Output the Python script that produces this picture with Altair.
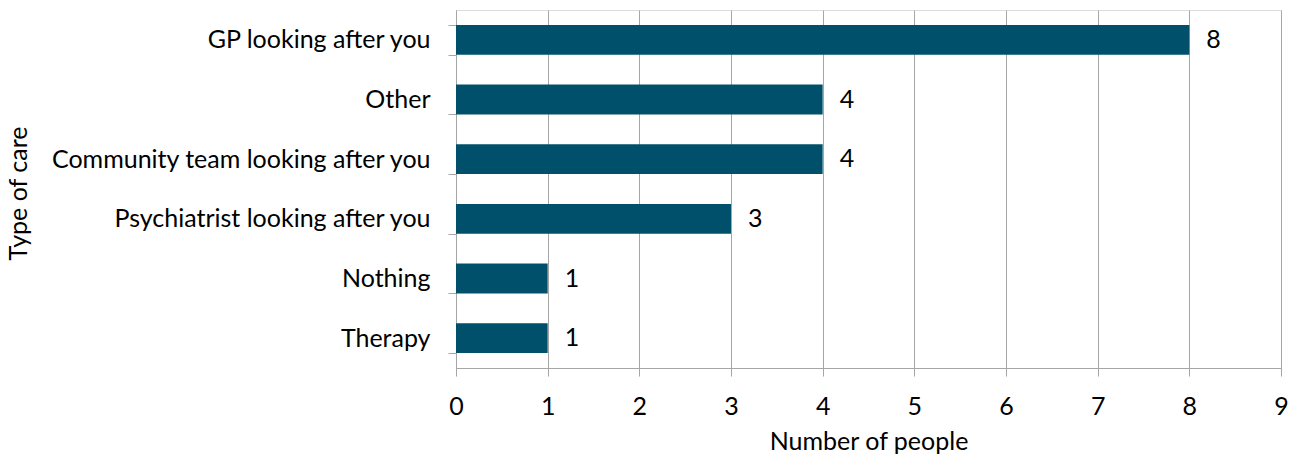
import altair as alt
import pandas as pd

categories = ["GP looking after you", "Other", "Community team looking after you",
              "Psychiatrist looking after you", "Nothing", "Therapy"]
values = [8, 4, 4, 3, 1, 1]

df = pd.DataFrame({"care": categories, "people": values})

FONT = "Lato"
FS = 25
BAR = "#00506B"
GRID = "#A6A6A6"

base = alt.Chart(df)

y_enc = alt.Y("care:N", sort=categories, title="Type of care",
              scale=alt.Scale(paddingInner=0.5, paddingOuter=0.25),
              axis=alt.Axis(tickBand="extent", tickSize=8, tickColor=GRID,
                            domainColor=GRID, labelPadding=18, labelFontSize=FS,
                            labelColor="black", labelFont=FONT, titleFont=FONT,
                            titleFontSize=FS, titleFontWeight="normal", titleColor="black",
                            titleX=-438, titleY=183, titleBaseline="middle",
                            titleAlign="center", grid=False, labelLimit=600))

bars = base.mark_bar(color=BAR).encode(
    x=alt.X("people:Q", title="Number of people",
            scale=alt.Scale(domain=[0, 9], nice=False),
            axis=alt.Axis(values=list(range(10)), tickSize=8, tickColor=GRID,
                          domainColor=GRID, gridColor=GRID, grid=True,
                          labelFlush=False, labelOverlap=False,
                          labelFontSize=FS, labelFont=FONT, labelColor="black",
                          labelPadding=18, titleFont=FONT, titleFontSize=FS,
                          titleFontWeight="normal", titleColor="black",
                          titleY=73, titleBaseline="middle", format="d")),
    y=y_enc,
)

text = base.mark_text(align="left", baseline="middle", dx=17, fontSize=FS,
                      font=FONT, color="black").encode(
    x="people:Q",
    y=alt.Y("care:N", sort=categories),
    text="people:Q",
)

chart = (bars + text).properties(
    width=825, height=358,
    autosize=alt.AutoSizeParams(type="none"),
    padding={"left": 456, "top": 10, "right": 17, "bottom": 91},
).configure_view(stroke=None).configure(background="white")

chart.save("out.html", embed_options={"renderer": "svg", "actions": False})
